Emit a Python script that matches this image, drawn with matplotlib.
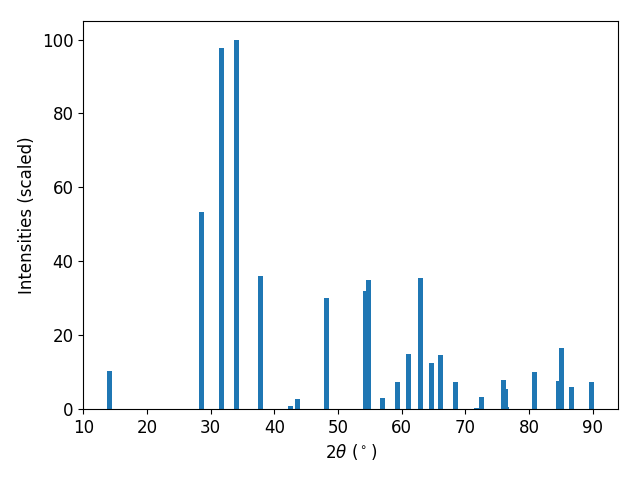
import matplotlib
matplotlib.use("Agg")
import matplotlib.pyplot as plt

# peak positions (2theta, degrees) and scaled intensities
two_theta = [14.1, 28.6, 31.65, 34.1, 37.85, 42.55, 43.65, 48.2, 54.35, 54.8,
             57.0, 59.35, 61.1, 63.0, 64.7, 66.1, 68.5, 71.75, 72.55, 76.0,
             76.3, 76.5, 80.9, 84.65, 85.1, 86.7, 89.8]
intensity = [10.4, 53.2, 97.6, 100.0, 36.0, 0.8, 2.7, 30.1, 32.0, 35.0,
             3.0, 7.3, 14.9, 35.5, 12.5, 14.6, 7.3, 0.3, 3.3, 7.9,
             5.4, 0.4, 10.0, 7.6, 16.5, 6.0, 7.3]

fig, ax = plt.subplots(figsize=(6.4, 4.8), dpi=100)
ax.bar(two_theta, intensity, width=0.8)
ax.set_xlim(10, 94)
ax.set_xlabel(r"2$\theta$ ($^\circ$)", fontsize=12)
ax.set_ylabel("Intensities (scaled)", fontsize=12)
ax.tick_params(labelsize=12)
fig.subplots_adjust(left=0.13, right=0.966, top=0.956, bottom=0.148)
fig.savefig("out.png")
